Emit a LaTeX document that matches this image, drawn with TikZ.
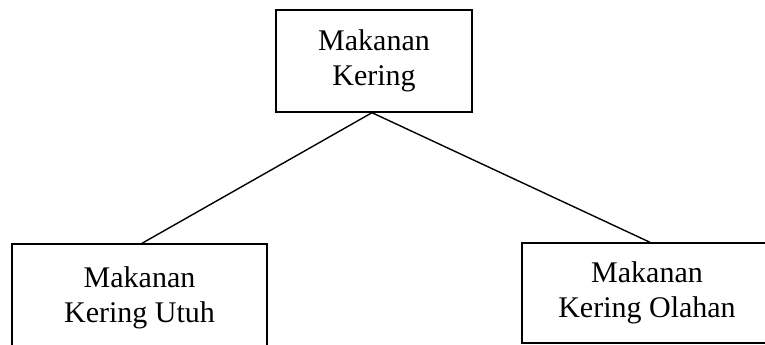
\documentclass[tikz,border=0pt]{standalone}
\usepackage{fontspec}
\setmainfont{Liberation Serif}
\begin{document}
\begin{tikzpicture}[x=1pt,y=-1pt,
  box/.style={draw,line width=1.4pt,rectangle,align=center,inner sep=0pt,
    font=\fontsize{30}{35}\selectfont},
  link/.style={line width=1.4pt}]
\useasboundingbox (0,0) rectangle (765,345);
\clip (0,0) rectangle (765,345);
\node[box,minimum width=196pt,minimum height=102pt] (top) at (374,61) {Makanan\\Kering};
\node[box,minimum width=255pt,minimum height=108pt] (left) at (139.5,298) {Makanan\\Kering Utuh};
\node[box,minimum width=250pt,minimum height=100pt] (right) at (647,293) {Makanan\\Kering Olahan};
\draw[link] ([xshift=-2pt]top.south) -- ([xshift=2.5pt]left.north);
\draw[link] ([xshift=-2pt]top.south) -- ([xshift=3pt]right.north);
\end{tikzpicture}
\end{document}
